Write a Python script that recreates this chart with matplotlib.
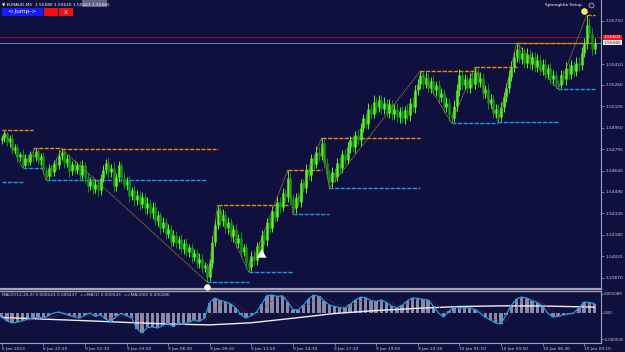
import numpy as np
import matplotlib
matplotlib.use("Agg")
import matplotlib.pyplot as plt
from matplotlib.patches import Rectangle

W, H = 625, 352
BASE = 1.53800          # prices are kept in points above this level
PT = 1e-5

BG = "#10103f"
AXC = "#9ea2c2"
SEP = "#a4a4b8"
TXT = "#cfd0e0"
UP_COL = "#5cf52a"
DN_COL = "#129312"

# ---- price bars (points above BASE), open of bar n = close of bar n-1
open0 = 1060
closes = [
    1080, 1110, 1050, 1075, 990, 1010, 940, 960, 885, 935,
    905, 960, 940, 985, 920, 945, 850, 805, 860, 830,
    900, 880, 950, 975, 900, 930, 840, 890, 850, 880,
    810, 880, 790, 730, 770, 710, 745, 700, 790, 850,
    900, 830, 860, 730, 800, 880, 790, 740, 770, 660,
    700, 630, 670, 600, 650, 570, 610, 540, 580, 480,
    520, 430, 470, 390, 420, 330, 380, 320, 350, 280,
    320, 260, 290, 220, 250, 180, 210, 140, 160, 80,
    180, 330, 450, 560, 480, 520, 430, 470, 370, 420,
    320, 360, 260, 290, 180, 150, 230, 200, 300, 260,
    380, 340, 470, 430, 550, 510, 620, 580, 680, 650,
    790, 640, 570, 650, 620, 750, 720, 850, 810, 930,
    890, 980, 950, 1040, 900, 820, 760, 830, 800, 900,
    860, 960, 920, 1010, 1060, 1010, 1100, 1060, 1150, 1220,
    1180, 1290, 1250, 1340, 1300, 1350, 1290, 1330, 1260, 1320,
    1250, 1290, 1230, 1270, 1220, 1280, 1240, 1330, 1300, 1420,
    1470, 1530, 1470, 1510, 1440, 1490, 1420, 1460, 1370, 1400,
    1300, 1330, 1240, 1220, 1310, 1420, 1530, 1460, 1500, 1440,
    1510, 1470, 1555, 1480, 1510, 1400, 1430, 1330, 1360, 1260,
    1290, 1230, 1300, 1370, 1440, 1520, 1590, 1660, 1720, 1650,
    1690, 1620, 1680, 1610, 1660, 1590, 1640, 1570, 1610, 1540,
    1580, 1500, 1530, 1470, 1460, 1530, 1500, 1580, 1540, 1600,
    1560, 1620, 1600, 1690, 1760, 1890, 1830, 1720, 1765,
]
wick_up = [
    20, 18, 14, 25, 30, 22, 28, 20, 35, 24,
    30, 22, 35, 21, 18, 28, 32, 20, 30, 25,
    22, 35, 40, 23, 18, 30, 35, 25, 38, 22,
    30, 40, 28, 35, 25, 32, 40, 28, 30, 35,
    25, 38, 30, 45, 28, 35, 22, 40, 30, 36,
    28, 40, 32, 25, 38, 30, 42, 28, 35, 40,
    30, 25, 38, 32, 40, 28, 35, 30, 25, 38,
    32, 40, 28, 35, 30, 25, 38, 30, 22, 20,
    30, 40, 35, 35, 28, 45, 30, 40, 35, 30,
    38, 30, 40, 28, 35, 30, 35, 40, 30, 38,
    32, 45, 30, 40, 35, 28, 42, 30, 38, 30,
    57, 45, 35, 30, 40, 35, 30, 42, 38, 30,
    35, 40, 30, 38, 30, 35, 30, 40, 35, 30,
    40, 30, 35, 42, 30, 38, 30, 40, 35, 30,
    35, 40, 30, 45, 30, 38, 35, 40, 30, 42,
    30, 35, 40, 28, 38, 30, 42, 35, 40, 38,
    30, 30, 22, 40, 35, 30, 42, 30, 38, 35,
    30, 40, 35, 28, 40, 45, 45, 35, 40, 30,
    35, 40, 34, 28, 40, 35, 30, 38, 35, 30,
    35, 30, 38, 40, 35, 45, 40, 42, 42, 35,
    40, 35, 45, 38, 40, 35, 42, 38, 35, 40,
    30, 38, 35, 30, 28, 40, 35, 42, 38, 40,
    35, 40, 38, 45, 40, 73, 50, 40, 35,
]
wick_dn = [
    25, 30, 28, 35, 30, 25, 32, 28, 23, 18,
    30, 25, 35, 28, 30, 35, 28, 30, 22, 30,
    25, 35, 28, 30, 35, 28, 40, 30, 35, 32,
    38, 30, 35, 40, 28, 35, 30, 38, 32, 30,
    35, 40, 30, 38, 32, 40, 35, 30, 38, 42,
    30, 40, 35, 42, 30, 38, 40, 35, 42, 30,
    38, 40, 32, 42, 35, 40, 30, 38, 42, 35,
    40, 35, 38, 42, 30, 40, 35, 38, 30, 39,
    30, 35, 30, 28, 40, 35, 38, 42, 35, 40,
    38, 35, 40, 30, 38, 37, 30, 35, 40, 32,
    38, 30, 40, 35, 30, 38, 32, 40, 30, 35,
    30, 45, 40, 30, 35, 40, 30, 38, 35, 40,
    35, 30, 40, 32, 35, 38, 42, 35, 40, 30,
    38, 35, 40, 30, 38, 35, 40, 32, 38, 30,
    40, 35, 38, 30, 42, 35, 40, 38, 30, 35,
    40, 35, 38, 42, 35, 40, 30, 38, 35, 40,
    35, 38, 40, 35, 30, 38, 35, 40, 38, 35,
    40, 35, 38, 34, 28, 35, 40, 38, 35, 40,
    38, 35, 40, 35, 38, 40, 35, 42, 38, 40,
    35, 37, 28, 35, 30, 38, 35, 40, 32, 35,
    38, 35, 40, 35, 42, 38, 35, 40, 38, 35,
    40, 35, 38, 32, 30, 24, 35, 40, 35, 38,
    40, 35, 38, 35, 30, 40, 35, 42, 38,
]

time_labels = ["6 Jan 2023", "6 Jan 22:30", "9 Jan 01:10", "9 Jan 03:50",
               "9 Jan 06:30", "9 Jan 09:10", "9 Jan 11:50", "9 Jan 14:30",
               "9 Jan 17:10", "9 Jan 19:50", "9 Jan 22:30", "10 Jan 01:10",
               "10 Jan 03:50", "10 Jan 06:30", "10 Jan 09:10"]
label_every = 16
price_ticks = [1.55720, 1.55410, 1.55260, 1.55105, 1.54950, 1.54795,
               1.54640, 1.54490, 1.54335, 1.54180, 1.54025, 1.53870]
bid_price = 1.55565
ask_price = 1.55602

# zigzag pivots (bar, points)
pivot_bars = [1, 8, 13, 17, 23, 79, 83, 95, 110, 112, 123, 126, 161, 173,
              182, 191, 198, 214, 225]
pivot_pts = [1128, 862, 1006, 775, 998, 41, 595, 113, 847, 530, 1078, 718,
             1560, 1186, 1589, 1193, 1762, 1430, 1963]
# resistance / support segments: (from bar, to bar, points)
res_lines = [(0, 12, 1135), (12, 23, 1006), (23, 83, 998), (83, 110, 595),
             (110, 123, 847), (123, 161, 1078), (161, 182, 1560),
             (182, 198, 1589), (198, 228, 1762), (225, 228, 1963)]
sup_lines = [(0, 8, 761), (8, 16, 862), (17, 79, 775), (79, 95, 41),
             (95, 112, 113), (112, 126, 530), (126, 161, 718),
             (173, 191, 1186), (191, 214, 1193), (214, 228, 1430)]
dot_bars = [79, 224]
dot_pts = [5, 1992]
dot_cols = ["#f8f8e4", "#ecec4c"]
arrow_bar = 100
arrow_pts = (215, 296)

# ---- MACD pane, values in 1e-6, one value every 2 bars
macd_step = 2
macd = [
    -230, -450, -573, -520, -450, -350, -290, -240, -280, -150,
    0, 57, -30, -150, -220, -290, -120, 0, -200, -100,
    -350, -500, -200, -30, -150, -290, -900, -1140, -830, -800,
    -860, -700, -600, -780, -560, -650, -520, -400, -480, -300,
    600, 860, 720, 650, 520, 300, -100, -290, -150, 57,
    500, 1000, 1030, 950, 990, 650, 200, 180, 450, 800,
    1030, 950, 700, 460, 380, 300, 290, 500, 750, 910,
    880, 700, 660, 750, 600, 400, 290, 450, 700, 860,
    840, 780, 740, 400, 0, -230, 100, 340, 300, 320,
    290, 200, 0, -250, -400, -580, -630, -100, 450, 800,
    917, 850, 700, 600, 400, 0, -230, -200, -100, -50,
    0, 300, 630, 600, 543,
]
signal = [
    -100, -200, -320, -420, -470, -450, -400, -340, -300, -260,
    -200, -120, -60, -60, -110, -180, -200, -160, -130, -120,
    -180, -290, -300, -220, -180, -200, -400, -650, -780, -820,
    -830, -790, -720, -700, -660, -640, -600, -530, -490, -440,
    -150, 200, 450, 580, 600, 500, 300, 60, -100, -100,
    100, 400, 700, 850, 920, 850, 620, 420, 380, 500,
    720, 860, 860, 720, 560, 440, 350, 380, 520, 680,
    790, 780, 720, 700, 680, 560, 420, 400, 520, 690,
    800, 810, 780, 620, 350, 80, -30, 100, 230, 290,
    300, 260, 150, -20, -220, -400, -540, -450, -100, 350,
    680, 820, 800, 700, 560, 300, 50, -120, -160, -120,
    -60, 80, 320, 480, 437,
]
ma200_bars = [0, 16, 32, 48, 64, 80, 96, 112, 128, 144, 160, 176, 192, 208, 224, 228]
ma200 = [-250, -350, -440, -540, -630, -680, -560, -300, -30, 140, 270, 370,
         410, 400, 350, 330]
macd_tick_vals = [0.001089, 0.0, -0.00149]
macd_tick_text = ["0.001089", "0.00", "-0.000535"]

# ---------------------------------------------------------------------------
c = np.array(closes, dtype=float)
o = np.r_[open0, c[:-1]]
hi = np.maximum(o, c) + np.array(wick_up)
lo = np.minimum(o, c) - np.array(wick_dn)
bars = np.arange(len(c))
to_price = lambda p: BASE + np.asarray(p, dtype=float) * PT

fig = plt.figure(figsize=(W / 100, H / 100), dpi=100, facecolor=BG)
ax = fig.add_axes([0, 63 / H, 601 / W, 289 / H], facecolor=BG)
ax2 = fig.add_axes([0, 9 / H, 601 / W, 52 / H], facecolor=BG)

xlim = (-1.7 / 2.6, (601 - 1.7) / 2.6)
for a in (ax, ax2):
    a.set_xlim(*xlim)
    for s in a.spines.values():
        s.set_visible(False)

ax.set_ylim(1.537904, 1.558712)

# horizontal reference lines
ax.axhline(ask_price, color="#a01818", lw=0.6, zorder=1)
ax.axhline(bid_price, color="#8a8aa8", lw=0.6, zorder=1)

# support / resistance segments
for b0, b1, p in res_lines:
    ax.hlines(to_price(p), b0, b1, color="#f08c00", lw=1.0, linestyles=(0, (3, 1)), zorder=2)
for b0, b1, p in sup_lines:
    ax.hlines(to_price(p), b0, b1, color="#1e9ae8", lw=1.0, linestyles=(0, (3, 1)), zorder=2)

# candles
up = c >= o
cols = np.where(up, UP_COL, DN_COL)
ax.vlines(bars, to_price(lo), to_price(hi), colors=cols, lw=0.7, zorder=3)
ax.vlines(bars, to_price(np.minimum(o, c)), to_price(np.maximum(o, c)),
          colors=cols, lw=1.8, zorder=3)

# zigzag
ax.plot(pivot_bars, to_price(pivot_pts), color="#b08a3c", lw=0.6,
        ls=(0, (1.5, 0.8)), zorder=4)

# signal dots and arrow
for b, p, col in zip(dot_bars, dot_pts, dot_cols):
    ax.plot(b, to_price(p), "o", color=col, ms=4.2, mec="#ffffd0", mew=0.4,
            clip_on=False, zorder=6)
ax.annotate("", xy=(arrow_bar, to_price(arrow_pts[1])),
            xytext=(arrow_bar, to_price(arrow_pts[0])),
            arrowprops=dict(arrowstyle="simple,head_width=0.7,head_length=0.6,tail_width=0.3",
                            color="white", lw=0), zorder=6)

# right price axis
ax.spines["right"].set_visible(True)
ax.spines["right"].set_color(AXC)
ax.spines["right"].set_linewidth(0.8)
ax.spines["bottom"].set_visible(True)
ax.spines["bottom"].set_color(SEP)
ax.spines["bottom"].set_linewidth(1.6)
ax.yaxis.tick_right()
ax.set_yticks(price_ticks, labels=[f"{v:.5f}" for v in price_ticks])
ax.tick_params(axis="y", colors=AXC, labelcolor=TXT, labelsize=3.1,
               length=2, width=0.5, pad=1)
ax.set_xticks([])

ax.text(1.004, ask_price, f"{ask_price:.5f}", transform=ax.get_yaxis_transform(),
        fontsize=3.1, color="white", va="center", ha="left", clip_on=False,
        bbox=dict(boxstyle="square,pad=0.2", fc="#ff1414", ec="none"))
ax.text(1.004, bid_price, f"{bid_price:.5f}", transform=ax.get_yaxis_transform(),
        fontsize=3.1, color="#101040", va="center", ha="left", clip_on=False,
        bbox=dict(boxstyle="square,pad=0.2", fc="#f2f2f2", ec="none"))

# ---- MACD pane
mb = np.arange(len(macd)) * macd_step
ax2.set_ylim(-0.001719, 0.0012606)
ax2.bar(mb, np.array(macd) * 1e-6, width=1.3, color="#8a8aa8", zorder=2)
ax2.plot(ma200_bars, np.array(ma200) * 1e-6, color="#ececf4", lw=1.0, zorder=3)
ax2.plot(mb, np.array(signal) * 1e-6, color="#b42020", lw=0.7, ls=":", zorder=4)
ax2.plot(mb, np.array(macd) * 1e-6, color="#1e9de4", lw=0.9, zorder=5)

for side in ("top", "right", "bottom"):
    ax2.spines[side].set_visible(True)
ax2.spines["top"].set_color(SEP)
ax2.spines["top"].set_linewidth(1.0)
ax2.spines["right"].set_color(AXC)
ax2.spines["right"].set_linewidth(0.8)
ax2.spines["bottom"].set_color(AXC)
ax2.spines["bottom"].set_linewidth(0.8)
ax2.yaxis.tick_right()
ax2.set_yticks(macd_tick_vals, labels=macd_tick_text)
ax2.tick_params(axis="y", colors=AXC, labelcolor=TXT, labelsize=2.9,
                length=1.5, width=0.5, pad=0.5)
ax2.set_xticks(np.arange(len(time_labels)) * label_every, labels=time_labels)
ax2.tick_params(axis="x", colors=AXC, labelcolor=TXT, labelsize=3.1,
                length=2, width=0.5, pad=1)
for t in ax2.get_xticklabels():
    t.set_ha("left")
ax2.text(2 / 601, 1 - 4 / 52,
         "MACD(12,26,9) 0.000543 0.000437  =>MA(1) 0.000543  =>MA(200) 0.000286",
         transform=ax2.transAxes, va="center", ha="left", fontsize=3.1, color=TXT)

# ---- header, buttons and setup label
def fx(x):
    return x / W


def fy(y):
    return 1 - y / H


fig.text(fx(2), fy(4), "\u25bc EURAUD,M5  1.55580 1.55620 1.55563 1.55565",
         fontsize=3.1, color="white", va="center", ha="left")
fig.add_artist(Rectangle((fx(82), fy(7)), 25 / W, 7 / H, fc="#9a9ab4",
                         ec="none", alpha=0.6))
fig.add_artist(Rectangle((fx(2), fy(16)), 41 / W, 8 / H, fc="#1a1aff", ec="none"))
fig.add_artist(Rectangle((fx(44), fy(16)), 14 / W, 8 / H, fc="#ee1111", ec="none"))
fig.add_artist(Rectangle((fx(59), fy(16)), 14 / W, 8 / H, fc="#ee1111", ec="none"))
fig.text(fx(22.5), fy(12), "<-Jump->", fontsize=4.2, color="white",
         va="center", ha="center")
fig.text(fx(66), fy(12), "X", fontsize=4.2, color="white", va="center", ha="center")
fig.text(fx(582), fy(5), "Sptongkha Setup", fontsize=3.1, color="white",
         va="center", ha="right")
ax.plot([591 / 601], [1 - 5 / 289], transform=ax.transAxes, marker="o", ms=3.5,
        mfc="none", mec="#d0d0d8", mew=0.5, clip_on=False)

fig.savefig("out.png", dpi=100, facecolor=BG)
